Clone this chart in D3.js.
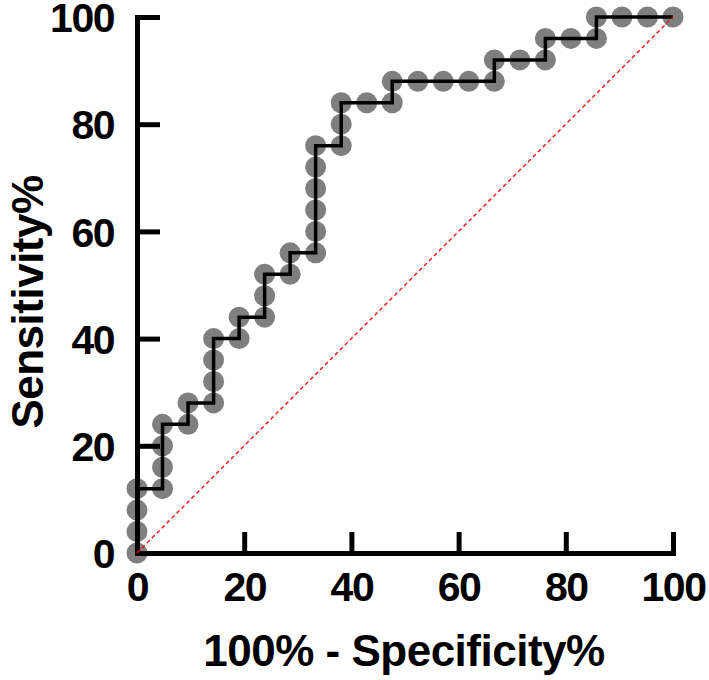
<!DOCTYPE html>
<html lang="en">
<head>
    <meta charset="UTF-8">
    <title>ROC curve</title>
    <style>
        body { margin: 0; background: #fff; }
        svg { display: block; }
        .axis text { font-family: "Liberation Sans", Arial, sans-serif; font-weight: bold; font-size: 41px; letter-spacing: -1.5px; fill: #000; }
        .axis path, .axis line { stroke: #000; stroke-width: 5; }
        .axis path { stroke-linecap: square; }
        .title { font-family: "Liberation Sans", Arial, sans-serif; font-weight: bold; font-size: 44px; letter-spacing: -0.5px; fill: #000; }
    </style>
</head>
<body>
    <script src="https://d3js.org/d3.v7.min.js"></script>
    <script>
        // 100% - specificity% (21 controls) and sensitivity% (25 cases)
        const fpr = [0, 0, 0, 0, 4.76, 4.76, 4.76, 4.76, 9.52, 9.52, 14.29, 14.29, 14.29, 14.29,
                     19.05, 19.05, 23.81, 23.81, 23.81, 28.57, 28.57, 33.33, 33.33, 33.33, 33.33, 33.33, 33.33,
                     38.1, 38.1, 38.1, 42.86, 47.62, 47.62, 52.38, 57.14, 61.9, 66.67, 66.67,
                     71.43, 76.19, 76.19, 80.95, 85.71, 85.71, 90.48, 95.24, 100];
        const sens = [0, 4, 8, 12, 12, 16, 20, 24, 24, 28, 28, 32, 36, 40,
                      40, 44, 44, 48, 52, 52, 56, 56, 60, 64, 68, 72, 76,
                      76, 80, 84, 84, 84, 88, 88, 88, 88, 88, 92,
                      92, 92, 96, 96, 96, 100, 100, 100, 100];
        const ticks = [0, 20, 40, 60, 80, 100];

        const w = 709, h = 680;
        const svg = d3.select("body").append("svg").attr("width", w).attr("height", h);

        const x = d3.scaleLinear().domain([0, 100]).range([137, 673]);
        const y = d3.scaleLinear().domain([0, 100]).range([553, 17]);
        const pts = fpr.map((d, i) => [d, sens[i]]);

        svg.selectAll("circle.pt")
           .data(pts)
           .enter()
           .append("circle")
           .attr("class", "pt")
           .attr("cx", d => x(d[0]))
           .attr("cy", d => y(d[1]))
           .attr("r", 10.5)
           .attr("fill", "#7f7f7f");

        svg.append("g").attr("class", "axis")
           .attr("transform", "translate(0,553)")
           .call(d3.axisBottom(x).tickValues(ticks).tickSizeInner(-21).tickSizeOuter(0).tickPadding(19))
           .call(g => g.selectAll("text").attr("dy", "0.71em"));

        svg.append("g").attr("class", "axis")
           .attr("transform", "translate(137,0)")
           .call(d3.axisLeft(y).tickValues(ticks).tickSizeInner(-23).tickSizeOuter(0).tickPadding(23))
           .call(g => g.selectAll("text").attr("dy", "0.36em"));

        svg.append("path")
           .datum(pts)
           .attr("fill", "none")
           .attr("stroke", "#000")
           .attr("stroke-width", 3.5)
           .attr("d", d3.line().x(d => x(d[0])).y(d => y(d[1])));

        svg.append("line")
           .attr("x1", x(0)).attr("y1", y(0))
           .attr("x2", x(100)).attr("y2", y(100))
           .attr("stroke", "red")
           .attr("stroke-width", 1.3)
           .attr("stroke-dasharray", "4,3");

        svg.append("text").attr("class", "title")
           .attr("x", 404).attr("y", 666)
           .attr("text-anchor", "middle")
           .text("100% - Specificity%");

        svg.append("text").attr("class", "title")
           .attr("transform", "translate(43,302) rotate(-90)")
           .attr("text-anchor", "middle")
           .text("Sensitivity%");
    </script>
</body>
</html>
